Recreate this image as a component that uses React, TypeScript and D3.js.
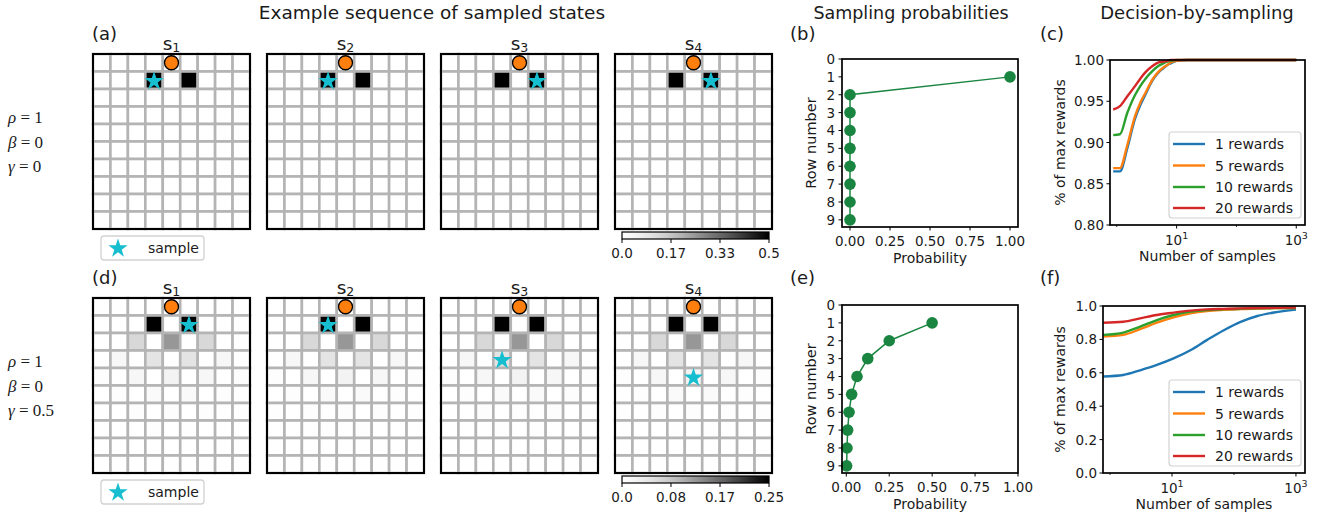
import React from "react";
import * as d3 from "d3";

// ---- grid world data (10 rows x 9 columns) ----
const rowIdx = [0, 1, 2, 3, 4, 5, 6, 7, 8, 9];
const colIdx = [0, 1, 2, 3, 4, 5, 6, 7, 8];
const stateLabels = ["1", "2", "3", "4"];
const rootCell = [0, 4];

const heatA = [
  [0, 0, 0, 0, 0, 0, 0, 0, 0],
  [0, 0, 0, 0.5, 0, 0.5, 0, 0, 0],
  [0, 0, 0, 0, 0, 0, 0, 0, 0],
  [0, 0, 0, 0, 0, 0, 0, 0, 0],
  [0, 0, 0, 0, 0, 0, 0, 0, 0],
  [0, 0, 0, 0, 0, 0, 0, 0, 0],
  [0, 0, 0, 0, 0, 0, 0, 0, 0],
  [0, 0, 0, 0, 0, 0, 0, 0, 0],
  [0, 0, 0, 0, 0, 0, 0, 0, 0],
  [0, 0, 0, 0, 0, 0, 0, 0, 0],
];
const heatD = [
  [0, 0, 0, 0, 0, 0, 0, 0, 0],
  [0, 0, 0, 0.25, 0, 0.25, 0, 0, 0],
  [0, 0, 0.0625, 0, 0.125, 0, 0.0625, 0, 0],
  [0, 0.0156, 0, 0.0469, 0, 0.0469, 0, 0.0156, 0],
  [0.0039, 0, 0.0156, 0, 0.0234, 0, 0.0156, 0, 0.0039],
  [0, 0.0049, 0, 0.0098, 0, 0.0098, 0, 0.0049, 0],
  [0.0015, 0, 0.0037, 0, 0.0049, 0, 0.0037, 0, 0.0015],
  [0, 0.001, 0, 0.002, 0, 0.002, 0, 0.001, 0],
  [0, 0, 0.001, 0, 0.001, 0, 0.001, 0, 0],
  [0, 0, 0, 0, 0, 0, 0, 0, 0],
];
// [row, col] of the sampled state in each step
const starsA = [[1, 3], [1, 3], [1, 5], [1, 5]];
const starsD = [[1, 5], [1, 3], [3, 3], [4, 4]];

const cbTicksA = [0, 0.1667, 0.3333, 0.5];
const cbLabelsA = ["0.0", "0.17", "0.33", "0.5"];
const cbTicksD = [0, 0.0833, 0.1667, 0.25];
const cbLabelsD = ["0.0", "0.08", "0.17", "0.25"];

// ---- sampling probabilities ----
const rowNumbers = [1, 2, 3, 4, 5, 6, 7, 8, 9];
const rowTicks = [0, 1, 2, 3, 4, 5, 6, 7, 8, 9];
const probB = [1.0, 0, 0, 0, 0, 0, 0, 0, 0];
const probE = [0.5, 0.25, 0.125, 0.0625, 0.031, 0.016, 0.008, 0.004, 0.002];
const probTicks = [0, 0.25, 0.5, 0.75, 1.0];

// ---- decision-by-sampling ----
const seriesNames = ["1 rewards", "5 rewards", "10 rewards", "20 rewards"];
const seriesColors = ["#1f77b4", "#ff7f0e", "#2ca02c", "#d62728"];

const samplesC = [0.87, 1.13, 1.5, 2, 2.5, 3, 4, 5, 6, 7, 8, 10, 15, 100, 1000];
const rewardsC1 = [0.865, 0.865, 0.893, 0.928, 0.946, 0.958, 0.976, 0.985, 0.99, 0.994, 0.996, 0.999, 1.0, 1.0, 1.0];
const rewardsC5 = [0.869, 0.869, 0.897, 0.931, 0.949, 0.96, 0.977, 0.986, 0.991, 0.994, 0.997, 0.999, 1.0, 1.0, 1.0];
const rewardsC10 = [0.909, 0.91, 0.936, 0.957, 0.969, 0.977, 0.987, 0.993, 0.996, 0.998, 0.999, 1.0, 1.0, 1.0, 1.0];
const rewardsC20 = [0.94, 0.944, 0.956, 0.968, 0.978, 0.985, 0.993, 0.997, 0.998, 0.999, 1.0, 1.0, 1.0, 1.0, 1.0];
const yTicksC = [0.8, 0.85, 0.9, 0.95, 1.0];

const samplesF = [0.78, 1.64, 3.06, 5.7, 10.6, 19.8, 36.9, 68.6, 128, 239, 444, 1000];
const rewardsF1 = [0.578, 0.587, 0.615, 0.647, 0.686, 0.735, 0.797, 0.855, 0.905, 0.94, 0.961, 0.978];
const rewardsF5 = [0.817, 0.827, 0.861, 0.9, 0.932, 0.956, 0.97, 0.977, 0.982, 0.985, 0.987, 0.988];
const rewardsF10 = [0.827, 0.841, 0.876, 0.916, 0.946, 0.966, 0.976, 0.981, 0.984, 0.986, 0.987, 0.988];
const rewardsF20 = [0.9, 0.906, 0.926, 0.946, 0.96, 0.972, 0.98, 0.983, 0.986, 0.988, 0.989, 0.99];
const yTicksF = [0, 0.2, 0.4, 0.6, 0.8, 1.0];

const logMajor = [10, 1000];
const logMinor = [1, 100];

const FONT = "DejaVu Sans, Arial, sans-serif";
const TXT = "#1a1a1a";
const GREEN = "#1a8540";
const TEAL = "#17becf";

const GRID_W = 157;
const GRID_H = 175;
const gridLefts = [93, 267, 441, 615];

const starPath = d3.symbol(d3.symbolStar, 115)() as string;

function Grid({ x0, y0, heat, vmax, star, label }: any) {
  const xs = d3.scaleBand<number>().domain(colIdx).range([x0, x0 + GRID_W]);
  const ys = d3.scaleBand<number>().domain(rowIdx).range([y0, y0 + GRID_H]);
  const color = d3.scaleSequential(d3.interpolateGreys).domain([0, vmax]);
  const bw = xs.bandwidth();
  const bh = ys.bandwidth();
  return (
    <g>
      {heat.map((row: number[], r: number) =>
        row.map((v, c) => (
          <rect key={`${r}-${c}`} x={xs(c)} y={ys(r)} width={bw} height={bh}
            fill={color(v)} stroke="#b4b4b4" strokeWidth={2.6} />
        ))
      )}
      <rect x={x0} y={y0} width={GRID_W} height={GRID_H} fill="none" stroke="#000" strokeWidth={2} />
      <circle cx={xs(rootCell[1])! + bw / 2} cy={ys(rootCell[0])! + bh / 2} r={7}
        fill="#ff7f0e" stroke="#000" strokeWidth={1.3} />
      <path d={starPath} fill={TEAL}
        transform={`translate(${xs(star[1])! + bw / 2},${ys(star[0])! + bh / 2 + 1})`} />
      <text x={x0 + GRID_W / 2} y={y0 - 4} textAnchor="middle" fontSize={18.5} fontFamily={FONT} fill={TXT}>
        s<tspan fontSize={12.5} dy={1.5}>{label}</tspan>
      </text>
    </g>
  );
}

function Colorbar({ y0, vmax, ticks, labels, id }: any) {
  const x = d3.scaleLinear().domain([0, vmax]).range([622, 769]);
  const stops = [0, 0.1, 0.2, 0.3, 0.4, 0.5, 0.6, 0.7, 0.8, 0.9, 1];
  return (
    <g fontFamily={FONT} fontSize={13.5} fill={TXT}>
      <defs>
        <linearGradient id={id} x1="0" x2="1" y1="0" y2="0">
          {stops.map((t) => (
            <stop key={t} offset={t} stopColor={d3.interpolateGreys(t)} />
          ))}
        </linearGradient>
      </defs>
      <rect x={622} y={y0} width={147} height={7} fill={`url(#${id})`} stroke="#000" strokeWidth={1.2} />
      {ticks.map((t: number, i: number) => (
        <g key={i}>
          <line x1={x(t)} x2={x(t)} y1={y0 + 7} y2={y0 + 11} stroke="#000" strokeWidth={1} />
          <text x={x(t)} y={y0 + 26} textAnchor="middle">{labels[i]}</text>
        </g>
      ))}
    </g>
  );
}

function SampleLegend({ y0 }: any) {
  return (
    <g>
      <rect x={101} y={y0} width={103} height={24} rx={3} fill="#fff" stroke="#d2d2d2" strokeWidth={1.3} />
      <path d={starPath} fill={TEAL} transform={`translate(118,${y0 + 12.5})`} />
      <text x={148} y={y0 + 17} fontSize={14} fontFamily={FONT} fill={TXT}>sample</text>
    </g>
  );
}

function ProbPanel({ top, bottom, xDomain, probs }: any) {
  const left = 842;
  const right = 1018;
  const x = d3.scaleLinear().domain(xDomain).range([left, right]);
  const y = d3.scaleLinear().domain([0, 9.4]).range([top, bottom]);
  const pts = rowNumbers.map((r, i) => ({ r, p: probs[i] }));
  const line = d3.line<any>().x((d) => x(d.p)).y((d) => y(d.r));
  return (
    <g fontFamily={FONT} fill={TXT}>
      <path d={line(pts)!} fill="none" stroke={GREEN} strokeWidth={1.5} />
      {pts.map((d, i) => (
        <circle key={i} cx={x(d.p)} cy={y(d.r)} r={5.8} fill={GREEN} />
      ))}
      <rect x={left} y={top} width={right - left} height={bottom - top} fill="none" stroke="#000" strokeWidth={1.7} />
      {rowTicks.map((t) => (
        <g key={t}>
          <line x1={left} x2={left - 3.5} y1={y(t)} y2={y(t)} stroke="#000" strokeWidth={1} />
          <text x={left - 7} y={y(t) + 5} textAnchor="end" fontSize={13.5}>{t}</text>
        </g>
      ))}
      {probTicks.map((t) => (
        <g key={t}>
          <line x1={x(t)} x2={x(t)} y1={bottom} y2={bottom + 3.5} stroke="#000" strokeWidth={1} />
          <text x={x(t)} y={bottom + 19} textAnchor="middle" fontSize={13.5}>{t.toFixed(2)}</text>
        </g>
      ))}
      <text x={(left + right) / 2} y={bottom + 36} textAnchor="middle" fontSize={14}>Probability</text>
      <text transform={`translate(816,${(top + bottom) / 2}) rotate(-90)`} textAnchor="middle" fontSize={14.5}>Row number</text>
    </g>
  );
}

function RewardPanel({ left, top, bottom, yDomain, yTicks, yFmt, samples, series }: any) {
  const right = 1305;
  const x = d3.scaleLog().domain([0.77, 1400]).range([left, right]);
  const y = d3.scaleLinear().domain(yDomain).range([bottom, top]);
  const line = d3.line<number>()
    .x((_, i) => x(samples[i]))
    .y((d) => y(d))
    .curve(d3.curveMonotoneX);
  const lgX = right - 136;
  const lgY = bottom - 93;
  const rowsY = [12, 33.5, 55, 76];
  return (
    <g fontFamily={FONT} fill={TXT}>
      {series.map((s: number[], i: number) => (
        <path key={i} d={line(s)!} fill="none" stroke={seriesColors[i]} strokeWidth={2.4} />
      ))}
      <rect x={left} y={top} width={right - left} height={bottom - top} fill="none" stroke="#000" strokeWidth={1.7} />
      {yTicks.map((t: number) => (
        <g key={t}>
          <line x1={left} x2={left - 3.5} y1={y(t)} y2={y(t)} stroke="#000" strokeWidth={1} />
          <text x={left - 6} y={y(t) + 5} textAnchor="end" fontSize={13.5}>{yFmt(t)}</text>
        </g>
      ))}
      {logMinor.map((t) => (
        <line key={t} x1={x(t)} x2={x(t)} y1={bottom} y2={bottom + 2} stroke="#000" strokeWidth={0.8} />
      ))}
      {logMajor.map((t) => (
        <g key={t}>
          <line x1={x(t)} x2={x(t)} y1={bottom} y2={bottom + 3.5} stroke="#000" strokeWidth={1} />
          <text x={x(t)} y={bottom + 20} textAnchor="middle" fontSize={13.5}>
            10<tspan fontSize={9.5} dy={-6}>{Math.round(Math.log10(t))}</tspan>
          </text>
        </g>
      ))}
      <text x={(left + right) / 2} y={bottom + 36} textAnchor="middle" fontSize={14}>Number of samples</text>
      <text transform={`translate(1065,${(top + bottom) / 2}) rotate(-90)`} textAnchor="middle" fontSize={14}>% of max rewards</text>
      <rect x={lgX} y={lgY} width={132} height={86} rx={3} fill="#fff" fillOpacity={0.85} stroke="#d2d2d2" strokeWidth={1.2} />
      {seriesNames.map((n, i) => (
        <g key={n}>
          <line x1={lgX + 4} x2={lgX + 36} y1={lgY + rowsY[i]} y2={lgY + rowsY[i]} stroke={seriesColors[i]} strokeWidth={2.4} />
          <text x={lgX + 46} y={lgY + rowsY[i] + 5} fontSize={14}>{n}</text>
        </g>
      ))}
    </g>
  );
}

function ParamLabel({ y0, sym, val }: any) {
  return (
    <text x={8} y={y0} fontSize={17} fontFamily="Liberation Serif, Times New Roman, serif" fill={TXT}>
      <tspan fontStyle="italic">{sym}</tspan> = {val}
    </text>
  );
}

export default function App() {
  const rows = [
    { top: 54, heat: heatA, vmax: 0.5, stars: starsA, cb: [cbTicksA, cbLabelsA], gamma: "0" },
    { top: 298, heat: heatD, vmax: 0.25, stars: starsD, cb: [cbTicksD, cbLabelsD], gamma: "0.5" },
  ];
  const panelLetters = [["(a)", "(b)", "(c)"], ["(d)", "(e)", "(f)"]];
  return (
    <svg width={1340} height={518} style={{ position: "absolute", left: 0, top: 0, background: "#fff" }}>
      <rect width={1340} height={518} fill="#fff" />
      <g fontFamily={FONT} fill={TXT} textAnchor="middle">
        <text x={432} y={19} fontSize={18.5}>Example sequence of sampled states</text>
        <text x={911} y={19} fontSize={17.5}>Sampling probabilities</text>
        <text x={1197} y={19} fontSize={18}>Decision-by-sampling</text>
      </g>
      {rows.map((row, ri) => (
        <g key={ri}>
          {gridLefts.map((gx, k) => (
            <Grid key={k} x0={gx} y0={row.top} heat={row.heat} vmax={row.vmax} star={row.stars[k]} label={stateLabels[k]} />
          ))}
          <Colorbar y0={row.top + 178} vmax={row.vmax} ticks={row.cb[0]} labels={row.cb[1]} id={`cb${ri}`} />
          <SampleLegend y0={row.top + 182} />
          <ParamLabel y0={row.top + 69} sym="ρ" val="1" />
          <ParamLabel y0={row.top + 94} sym="β" val="0" />
          <ParamLabel y0={row.top + 118} sym="γ" val={row.gamma} />
          {[92, 790, 1040].map((lx, li) => (
            <text key={li} x={lx} y={row.top - 14} fontSize={18} fontFamily={FONT} fill={TXT}>{panelLetters[ri][li]}</text>
          ))}
        </g>
      ))}
      <ProbPanel top={59} bottom={227} xDomain={[-0.05, 1.05]} probs={probB} />
      <ProbPanel top={305} bottom={473} xDomain={[-0.025, 1.0]} probs={probE} />
      <RewardPanel left={1110} top={60} bottom={225} yDomain={[0.8, 1.0]} yTicks={yTicksC}
        yFmt={(t: number) => t.toFixed(2)} samples={samplesC}
        series={[rewardsC1, rewardsC5, rewardsC10, rewardsC20]} />
      <RewardPanel left={1103} top={306} bottom={473} yDomain={[0, 1.0]} yTicks={yTicksF}
        yFmt={(t: number) => t.toFixed(1)} samples={samplesF}
        series={[rewardsF1, rewardsF5, rewardsF10, rewardsF20]} />
    </svg>
  );
}
